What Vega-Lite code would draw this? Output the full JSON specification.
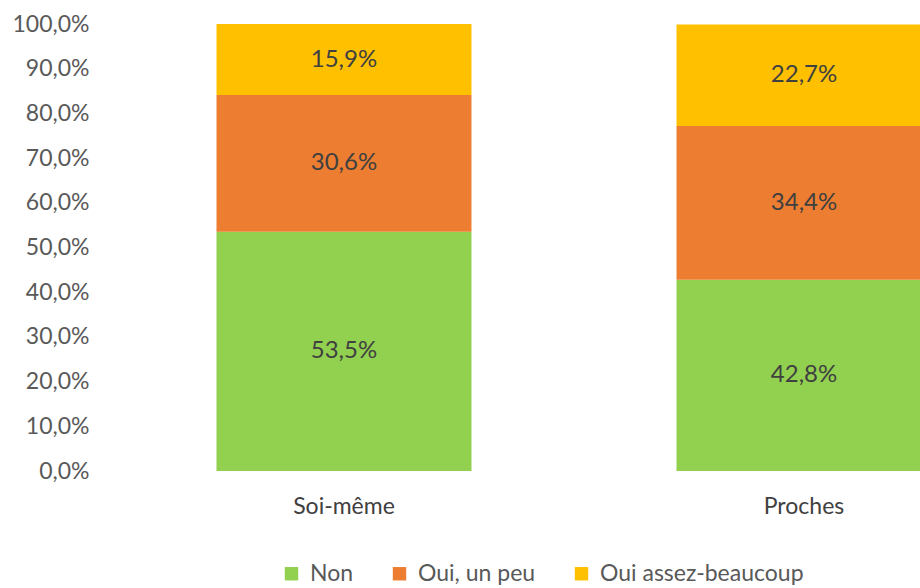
{
  "$schema": "https://vega.github.io/schema/vega-lite/v6.json",
  "width": 920,
  "height": 447,
  "autosize": {"type": "none"},
  "padding": {"left": 114, "top": 24, "right": 0, "bottom": 117},
  "background": "white",
  "config": {
    "view": {"stroke": null},
    "font": "Lato",
    "locale": {"number": {"decimal": ",", "thousands": " ", "grouping": [3], "currency": ["", " €"]}}
  },
  "data": {
    "values": [
      {"groupe": "Soi-même", "reponse": "Non", "k": 1, "valeur": 0.535},
      {"groupe": "Soi-même", "reponse": "Oui, un peu", "k": 2, "valeur": 0.306},
      {"groupe": "Soi-même", "reponse": "Oui assez-beaucoup", "k": 3, "valeur": 0.159},
      {"groupe": "Proches", "reponse": "Non", "k": 1, "valeur": 0.428},
      {"groupe": "Proches", "reponse": "Oui, un peu", "k": 2, "valeur": 0.344},
      {"groupe": "Proches", "reponse": "Oui assez-beaucoup", "k": 3, "valeur": 0.227}
    ]
  },
  "encoding": {
    "x": {
      "field": "groupe", "type": "nominal", "sort": ["Soi-même", "Proches"],
      "scale": {"paddingInner": 0.4457, "paddingOuter": 0.2228},
      "axis": {"title": null, "labelAngle": 0, "labelFontSize": 23, "labelColor": "#404040", "labelPadding": 24, "ticks": false, "domain": false}
    },
    "y": {
      "field": "valeur", "type": "quantitative", "stack": "zero",
      "scale": {"domain": [0, 1]},
      "axis": {"title": null, "format": ".1%", "values": [0,0.1,0.2,0.3,0.4,0.5,0.6,0.7,0.8,0.9,1], "labelOverlap": false, "labelFontSize": 23, "labelColor": "#595959", "labelPadding": 25, "ticks": false, "domain": false, "grid": false}
    },
    "order": {"field": "k", "type": "quantitative"}
  },
  "layer": [
    {
      "mark": {"type": "bar"},
      "encoding": {
        "color": {
          "field": "reponse", "type": "nominal",
          "scale": {"domain": ["Non", "Oui, un peu", "Oui assez-beaucoup"], "range": ["#92D050", "#ED7D31", "#FFC000"]},
          "legend": {"title": null, "orient": "none", "direction": "horizontal", "legendX": 166, "legendY": 538, "symbolType": "square", "symbolSize": 180, "symbolStrokeWidth": 0, "symbolOpacity": 1, "labelFontSize": 23, "labelColor": "#595959", "labelLimit": 400, "columnPadding": 34, "labelOffset": 7}
        }
      }
    },
    {
      "mark": {"type": "text", "fontSize": 24, "color": "#404040"},
      "encoding": {
        "y": {"field": "valeur", "type": "quantitative", "stack": "zero", "bandPosition": 0.5},
        "text": {"field": "valeur", "type": "quantitative", "format": ".1%"}
      }
    }
  ]
}
